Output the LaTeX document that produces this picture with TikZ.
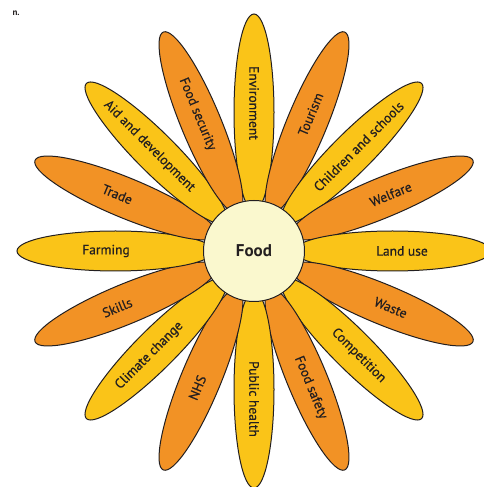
\documentclass[tikz,border=0pt]{standalone}
\usepackage{fontspec}
\setmainfont{PT Sans}
\newfontfamily\labfont{PT Sans}[FakeBold=0.6]
\usetikzlibrary{calc}
\definecolor{petalY}{RGB}{250,196,24}
\definecolor{petalO}{RGB}{242,146,37}
\definecolor{centreC}{RGB}{250,248,206}
\definecolor{ink}{RGB}{35,31,32}
\tikzset{
  petal/.style={draw=ink, line width=1pt},
  lab/.style={text=ink, font=\labfont\fontsize{13.5}{15}\selectfont, inner sep=0pt},
  hub/.style={circle, draw=ink, line width=1pt, fill=centreC, minimum size=101pt, inner sep=0pt, font=\fontsize{17}{20}\selectfont\bfseries, text=ink}
}
\begin{document}
\begin{tikzpicture}[x=1pt,y=1pt]
\useasboundingbox (0,0) rectangle (484,487);
\coordinate (c) at (254,236);
\foreach \ang/\rot/\col/\txt [count=\i] in {
  90/-90/petalY/Environment,
  67.5/67.5/petalO/Tourism,
  45/45/petalY/Children and schools,
  22.5/22.5/petalO/Welfare,
  0/0/petalY/Land use,
  -22.5/-22.5/petalO/Waste,
  -45/-45/petalY/Competition,
  -67.5/-67.5/petalO/Food safety,
  -90/-90/petalY/Public health,
  247.5/67.5/petalO/NHS,
  225/45/petalY/Climate change,
  202.5/22.5/petalO/Skills,
  180/0/petalY/Farming,
  157.5/-22.5/petalO/Trade,
  135/-45/petalY/Aid and development,
  112.5/-67.5/petalO/Food security}{
  \draw[petal, fill=\col, shift={(c)}, rotate=\ang] (138.5,0) ellipse [x radius=98.5, y radius=20];
  \node[lab, rotate=\rot] (l\i) at ($(c)+(\ang:148)$) {\txt};
}
\node[hub] (food) at (c) {Food};
\node[text=ink, font=\fontsize{9}{10}\selectfont\bfseries, anchor=west] (tag) at (9,474) {n.};
\end{tikzpicture}
\end{document}
